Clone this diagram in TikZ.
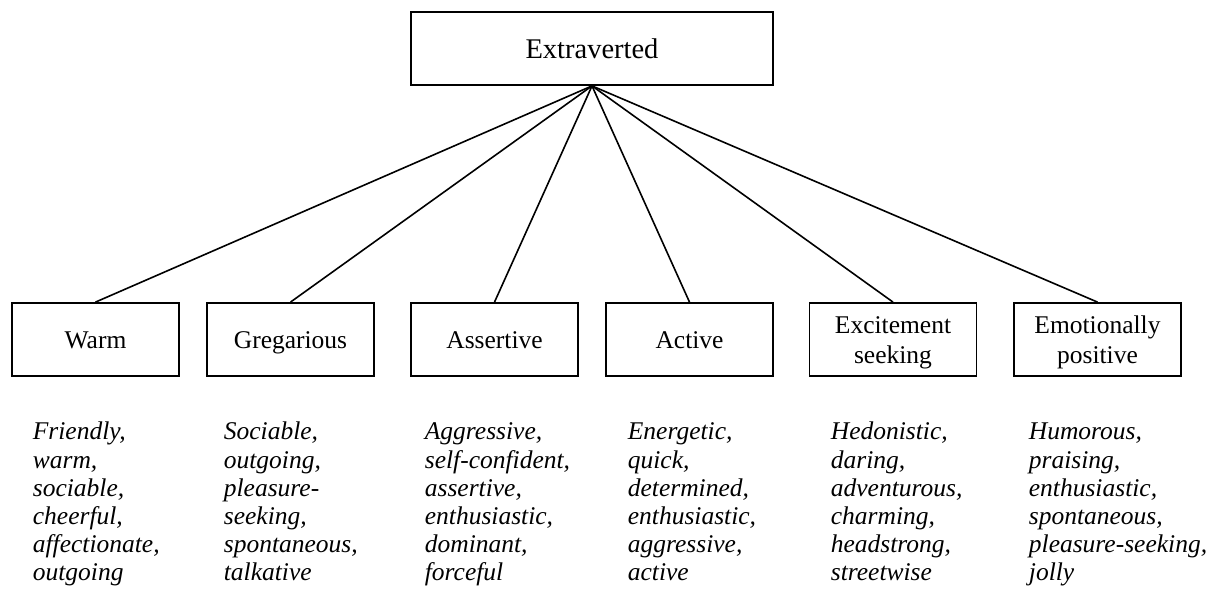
\documentclass[tikz,border=0pt]{standalone}
\usepackage{fontspec}
\setmainfont{Liberation Serif}
% invisible rules that give every facet label the same height and depth
\newcommand\labelstrut{\rule[-7pt]{0pt}{31pt}}
\newcommand\labeltop{\rule{0pt}{24pt}}
\newcommand\labelbottom{\rule[-7pt]{0pt}{7pt}}
\begin{document}
\begin{tikzpicture}[x=1pt,y=-1pt,
  line width=1.8pt,
  facetbox/.style={draw, minimum width=167pt, minimum height=73pt, inner sep=0pt,
    align=center, font=\fontsize{25.5}{30}\selectfont},
  topbox/.style={draw, minimum width=362pt, minimum height=73pt, inner sep=0pt,
    font=\fontsize{28.5}{32}\selectfont},
  adjlist/.style={anchor=north west, inner sep=0pt, align=left,
    font=\fontsize{25.5}{28.2}\selectfont\itshape},
  link/.style={line width=1.6pt}]
\useasboundingbox (0,0) rectangle (1214,597);

% Trait at the top
\node[topbox] (extra) at (592,48.5) {Extraverted};

% Facets
\node[facetbox] (warm) at (95.5,339.5) {\labelstrut Warm};
\node[facetbox] (greg) at (290.5,339.5) {\labelstrut Gregarious};
\node[facetbox] (asse) at (494.5,339.5) {\labelstrut Assertive};
\node[facetbox] (acti) at (689.5,339.5) {\labelstrut Active};
\node[facetbox] (exci) at (893,339.5) {\labeltop Excitement\\\labelbottom seeking};
\node[facetbox] (emot) at (1097.5,339.5) {\labeltop Emotionally\\\labelbottom positive};

% Links from the trait to its facets
\foreach \f in {warm,greg,asse,acti,exci,emot}
  \draw[link] (extra.south) -- (\f.north);

% Adjectives describing each facet (first baseline at y = 439)
\node[adjlist] (adj1) at (32,419.3) {\strut Friendly,\\warm,\\sociable,\\cheerful,\\affectionate,\\outgoing};
\node[adjlist] (adj2) at (223,419.3) {\strut Sociable,\\outgoing,\\pleasure-\\seeking,\\spontaneous,\\talkative};
\node[adjlist] (adj3) at (424,419.3) {\strut Aggressive,\\self-confident,\\assertive,\\enthusiastic,\\dominant,\\forceful};
\node[adjlist] (adj4) at (627,419.3) {\strut Energetic,\\quick,\\determined,\\enthusiastic,\\aggressive,\\active};
\node[adjlist] (adj5) at (830,419.3) {\strut Hedonistic,\\daring,\\adventurous,\\charming,\\headstrong,\\streetwise};
\node[adjlist] (adj6) at (1028,419.3) {\strut Humorous,\\praising,\\enthusiastic,\\spontaneous,\\pleasure-seeking,\\jolly};
\end{tikzpicture}
\end{document}
